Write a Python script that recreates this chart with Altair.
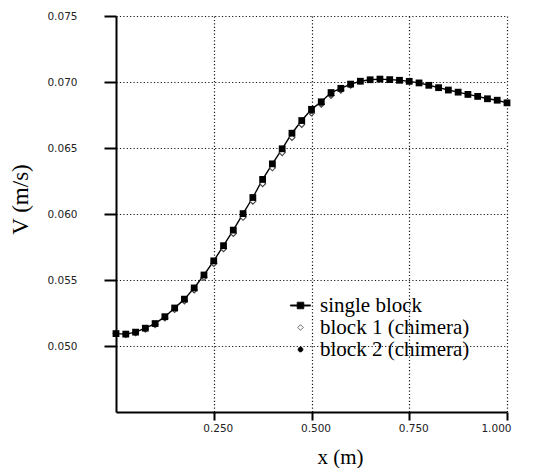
import altair as alt
import pandas as pd

# single block
x_single = [0.000, 0.025, 0.050, 0.075, 0.100, 0.125, 0.150, 0.175, 0.200, 0.225,
            0.250, 0.275, 0.300, 0.325, 0.350, 0.375, 0.400, 0.425, 0.450, 0.475,
            0.500, 0.525, 0.550, 0.575, 0.600, 0.625, 0.650, 0.675, 0.700, 0.725,
            0.750, 0.775, 0.800, 0.825, 0.850, 0.875, 0.900, 0.925, 0.950, 0.975, 1.000]
v_single = [0.05094, 0.05090, 0.05105, 0.05135, 0.05170, 0.05222, 0.05288, 0.05355, 0.05440, 0.05538,
            0.05645, 0.05760, 0.05878, 0.06003, 0.06125, 0.06262, 0.06380, 0.06494, 0.06612, 0.06708,
            0.06793, 0.06850, 0.06920, 0.06952, 0.06984, 0.07006, 0.07017, 0.07022, 0.07018, 0.07013,
            0.07005, 0.06993, 0.06975, 0.06957, 0.06939, 0.06923, 0.06906, 0.06891, 0.06873, 0.06862, 0.06842]

# block 1 (chimera)
x_b1 = [0.000, 0.025, 0.050, 0.075, 0.100, 0.125, 0.150, 0.175, 0.200, 0.225,
        0.250, 0.275, 0.300, 0.325, 0.350, 0.375, 0.400, 0.425, 0.450, 0.475,
        0.500, 0.525, 0.550, 0.575, 0.600]
v_b1 = [0.05094, 0.05088, 0.05100, 0.05128, 0.05162, 0.05212, 0.05276, 0.05342, 0.05425, 0.05520,
        0.05625, 0.05737, 0.05853, 0.05975, 0.06097, 0.06230, 0.06350, 0.06465, 0.06580, 0.06678,
        0.06765, 0.06832, 0.06898, 0.06938, 0.06975]

# block 2 (chimera)
x_b2 = [0.500, 0.525, 0.550, 0.575, 0.600, 0.625, 0.650, 0.675, 0.700, 0.725,
        0.750, 0.775, 0.800, 0.825, 0.850, 0.875, 0.900, 0.925, 0.950, 0.975, 1.000]
v_b2 = [0.06778, 0.06840, 0.06908, 0.06945, 0.06978, 0.07002, 0.07014, 0.07020, 0.07016, 0.07011,
        0.07003, 0.06991, 0.06973, 0.06955, 0.06937, 0.06921, 0.06904, 0.06889, 0.06871, 0.06860, 0.06840]

series_names = ["single block", "block 1 (chimera)", "block 2 (chimera)"]
x_ticks = [0.25, 0.5, 0.75, 1.0]
y_ticks = [0.050, 0.055, 0.060, 0.065, 0.070, 0.075]

df_single = pd.DataFrame({"x": x_single, "v": v_single, "series": series_names[0]})
df_b1 = pd.DataFrame({"x": x_b1, "v": v_b1, "series": series_names[1]})
df_b2 = pd.DataFrame({"x": x_b2, "v": v_b2, "series": series_names[2]})
df_all = pd.concat([df_single, df_b1, df_b2], ignore_index=True)

xenc = alt.X("x:Q", scale=alt.Scale(domain=[0, 1.0], nice=False, zero=False),
             axis=alt.Axis(values=x_ticks, format=".3f", title="x (m)",
                           tickSize=8, labelPadding=3, labelOffset=4,
                           titleX=224, titleY=34, titleBaseline="top", titleFontSize=21))
yenc = alt.Y("v:Q", scale=alt.Scale(domain=[0.045, 0.075], nice=False, zero=False),
             axis=alt.Axis(values=y_ticks, format=".3f", title="V (m/s)",
                           tickSize=12, labelPadding=27,
                           titleX=-84, titleY=183, titleAngle=270,
                           titleBaseline="bottom", titleAlign="center",
                           titleFontSize=23))

line = alt.Chart(df_single).mark_line(color="black", strokeWidth=1.4).encode(x=xenc, y=yenc)

pts_b1 = alt.Chart(df_b1).mark_point(shape="diamond", size=36, filled=True, fill="white",
                                     stroke="#444", strokeWidth=1.1, opacity=1).encode(x="x:Q", y="v:Q")
pts_b2 = alt.Chart(df_b2).mark_point(shape="circle", size=26, filled=True, color="black",
                                     opacity=1).encode(x="x:Q", y="v:Q")
pts_single = alt.Chart(df_single).mark_point(shape="square", size=46, filled=True, color="black",
                                             opacity=1).encode(x="x:Q", y="v:Q")

sq_line_path = ("M-1,-0.06 L1,-0.06 L1,0.06 L-1,0.06 Z "
                "M-0.33,-0.33 L0.33,-0.33 L0.33,0.33 L-0.33,0.33 Z")
diamond_path = "M0,-0.28 L0.28,0 L0,0.28 L-0.28,0 Z"
circle_path = "M-0.24,0 A0.24,0.24 0 1,0 0.24,0 A0.24,0.24 0 1,0 -0.24,0 Z"

leg = alt.Legend(title=None, orient="none", legendX=174, legendY=279,
                 labelFont="Liberation Serif", labelFontSize=21,
                 labelColor="black", labelOffset=9, rowPadding=0,
                 padding=0, symbolOpacity=1, labelLimit=400,
                 symbolSize=400, symbolStrokeWidth=0.8)

legend_layer = alt.Chart(df_all).transform_filter("datum.x < -1").mark_point(
    filled=True, size=400, strokeWidth=0.8, opacity=0
).encode(
    x="x:Q", y="v:Q",
    shape=alt.Shape("series:N",
                    scale=alt.Scale(domain=series_names, range=[sq_line_path, diamond_path, circle_path]),
                    legend=leg),
    fill=alt.Fill("series:N", scale=alt.Scale(domain=series_names, range=["black", "white", "black"]),
                  legend=leg),
    stroke=alt.Stroke("series:N", scale=alt.Scale(domain=series_names, range=["black", "#444", "black"]),
                      legend=leg),
)

chart = alt.layer(line, pts_b1, pts_b2, pts_single, legend_layer).properties(
    width=391, height=396,
    autosize=alt.AutoSizeParams(type="none"),
    padding={"left": 108, "top": 8, "right": 24, "bottom": 56},
    background="white",
).configure_view(stroke=None).configure_axis(
    domainColor="black", domainWidth=2, tickColor="black", tickWidth=2,
    grid=True, gridColor="black", gridDash=[1.2, 2.2], gridWidth=1.2, gridOpacity=0.9,
    labelFont="DejaVu Sans", labelFontSize=10.5, labelColor="#222",
    titleFont="Liberation Serif", titleColor="black", titleFontWeight="normal",
)

chart.save("out.html", embed_options={"renderer": "svg", "actions": False})
